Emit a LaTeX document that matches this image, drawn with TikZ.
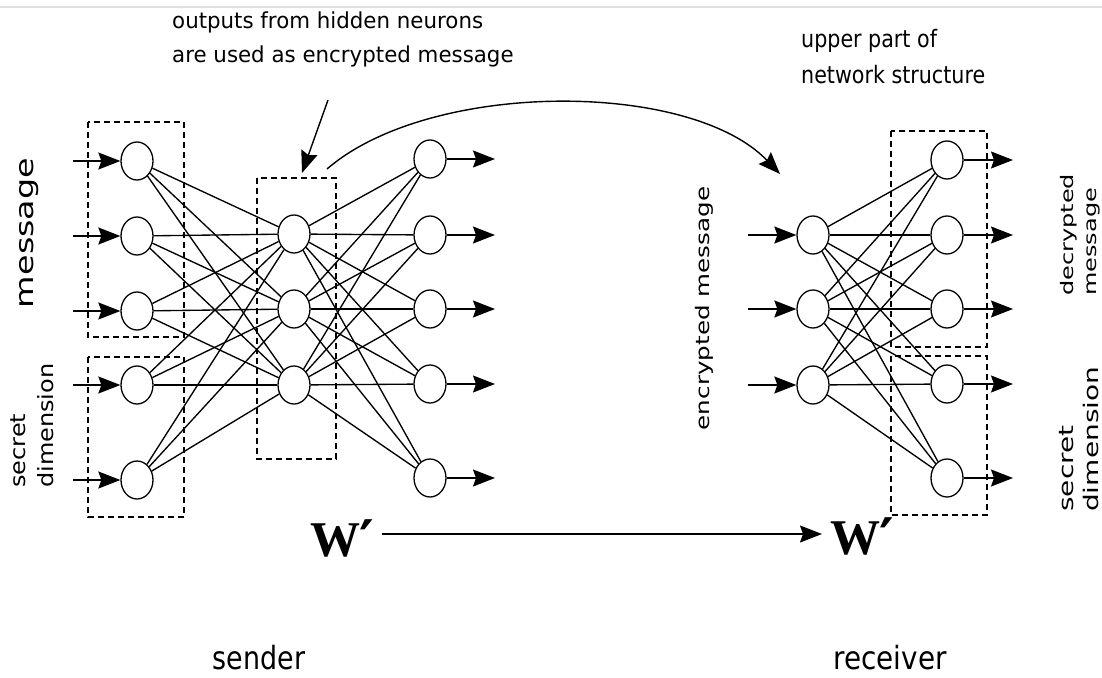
\documentclass[tikz,border=0pt]{standalone}
\usepackage{fontspec}
\setmainfont{DejaVu Sans}
\newfontfamily\wfont{Liberation Serif}
\usepackage{graphicx}
\usetikzlibrary{shapes.geometric,arrows.meta}
\begin{document}
\begin{tikzpicture}[x=1pt,y=-1pt,
  neuron/.style={ellipse,draw,fill=white,line width=1.3pt,minimum width=32pt,minimum height=38pt,inner sep=0pt},
  conn/.style={line width=1.35pt},
  arr/.style={line width=1.4pt,-{Stealth[length=22pt,width=17pt,inset=3pt]}},
  dbox/.style={dash pattern=on 6pt off 4pt,line width=1.2pt},
  lbl/.style={inner sep=0pt,text=black}]
\useasboundingbox[fill=white] (0,0) rectangle (1102,677);
\draw[black!12,line width=2pt] (0,7) -- (1102,7);

% dashed boxes
\draw[dbox] (88,122) rectangle (184,337);
\draw[dbox] (88,357) rectangle (184,517);
\draw[dbox] (257,178) rectangle (336,459);
\draw[dbox] (891,131) rectangle (987,347);
\draw[dbox] (891,356) rectangle (987,515);

% sender neurons
\foreach \i/\y in {1/161,2/236,3/311,4/385,5/480}
  \node[neuron] (si\i) at (137,\y) {};
\foreach \i/\y in {1/234,2/309,3/385}
  \node[neuron] (sh\i) at (294,\y) {};
\foreach \i/\y in {1/159,2/235,3/309,4/384,5/478}
  \node[neuron] (so\i) at (430,\y) {};
% receiver neurons
\foreach \i/\y in {1/235,2/309,3/385}
  \node[neuron] (ri\i) at (813,\y) {};
\foreach \i/\y in {1/160,2/235,3/309,4/384,5/478}
  \node[neuron] (ro\i) at (947,\y) {};

% connections
\foreach \a in {1,...,5} \foreach \b in {1,2,3} {
  \draw[conn] (si\a) -- (sh\b);
  \draw[conn] (sh\b) -- (so\a);
  \draw[conn] (ri\b) -- (ro\a);
}

% input / output arrows
\foreach \i/\y in {1/161,2/236,3/311,4/385,5/480} {
  \coordinate (ia\i) at (73,\y);
  \draw[arr] (ia\i) -- (si\i);
}
\foreach \i/\y in {1/159,2/235,3/309,4/384,5/478} {
  \coordinate (oa\i) at (495,\y);
  \draw[arr] (so\i) -- (oa\i);
}
\foreach \i/\y in {1/235,2/309,3/385} {
  \coordinate (ria\i) at (748,\y);
  \draw[arr] (ria\i) -- (ri\i);
}
\foreach \i/\y in {1/160,2/235,3/309,4/384,5/478} {
  \coordinate (roa\i) at (1013,\y);
  \draw[arr] (ro\i) -- (roa\i);
}

% pointer and curved arrow
\coordinate (ps) at (328,100);
\coordinate (pe) at (302,173);
\draw[arr] (ps) -- (pe);
\coordinate (cs) at (327,169);
\coordinate (ce) at (780,174);
\draw[arr] (cs) .. controls (430,80) and (690,80) .. (ce);

% W' labels
\node[lbl,anchor=base east] (wl) at (374,556)
  {{\wfont\fontsize{50}{50}\selectfont\bfseries W}\kern-1pt\raisebox{-4pt}{\fontsize{56}{56}\selectfont\bfseries ′}};
\node[lbl,anchor=base west] (wr) at (830,554)
  {{\wfont\fontsize{50}{50}\selectfont\bfseries W}\kern-1pt\raisebox{-4pt}{\fontsize{56}{56}\selectfont\bfseries ′}};
\draw[arr,shorten <=8pt,shorten >=8pt] ([yshift=22pt]wl.base east) -- ([yshift=20pt]wr.base west);

% horizontal texts
\node[lbl,anchor=base west,font=\fontsize{22}{22}\selectfont] (ta) at (172,29)
  {\scalebox{0.97}[1]{outputs from hidden neurons}};
\node[lbl,anchor=base west,font=\fontsize{22}{22}\selectfont] (tb) at (172,63)
  {\scalebox{0.97}[1]{are used as encrypted message}};
\node[lbl,anchor=base west,font=\fontsize{24}{24}\selectfont] (tc) at (801,48)
  {\scalebox{0.86}[1]{upper part of}};
\node[lbl,anchor=base west,font=\fontsize{24}{24}\selectfont] (td) at (801,83)
  {\scalebox{0.86}[1]{network structure}};
\node[lbl,anchor=base,font=\fontsize{32}{32}\selectfont] (snd) at (259,669)
  {\scalebox{0.84}[1]{sender}};
\node[lbl,anchor=base,font=\fontsize{32}{32}\selectfont] (rcv) at (890,669)
  {\scalebox{0.87}[1]{receiver}};

% rotated texts
\node[lbl,rotate=90,anchor=base,font=\fontsize{33.4}{34}\selectfont] (msg) at (33.6,233)
  {\scalebox{1}[0.75]{message}};
\node[lbl,rotate=90,anchor=base west,font=\fontsize{24}{24}\selectfont] (sd1) at (25,488)
  {\scalebox{1}[0.88]{secret}};
\node[lbl,rotate=90,anchor=base west,font=\fontsize{24}{24}\selectfont] (sd2) at (53,488)
  {\scalebox{1}[0.88]{dimension}};
\node[lbl,rotate=90,anchor=base,font=\fontsize{24.6}{25}\selectfont] (enc) at (709,308.5)
  {\scalebox{1}[0.76]{encrypted message}};
\node[lbl,rotate=90,anchor=base west,font=\fontsize{24}{24}\selectfont] (dm1) at (1073,296)
  {\scalebox{1}[0.72]{decrypted}};
\node[lbl,rotate=90,anchor=base west,font=\fontsize{24}{24}\selectfont] (dm2) at (1096,296)
  {\scalebox{1}[0.72]{message}};
\node[lbl,rotate=90,anchor=base west,font=\fontsize{28}{28}\selectfont] (sd3) at (1073,512)
  {\scalebox{1}[0.72]{secret}};
\node[lbl,rotate=90,anchor=base west,font=\fontsize{28}{28}\selectfont] (sd4) at (1098,512)
  {\scalebox{1}[0.72]{dimension}};
\end{tikzpicture}
\end{document}
